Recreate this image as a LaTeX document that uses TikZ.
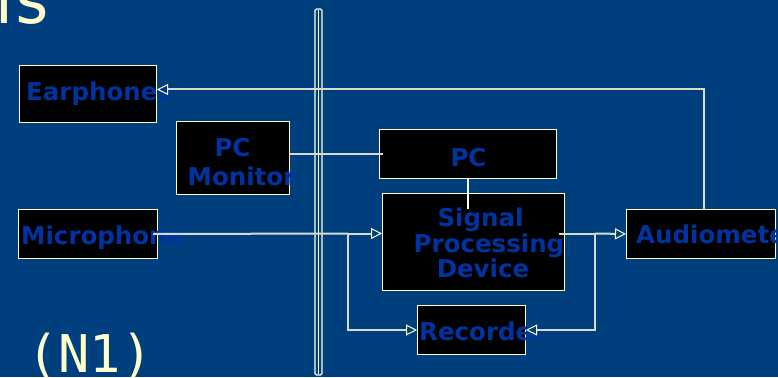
\documentclass[tikz,border=0pt]{standalone}
\usepackage{fontspec}
\setmainfont{DejaVu Sans}
\newfontfamily\slidemono{DejaVu Sans Mono}
\usetikzlibrary{arrows.meta,calc}
\definecolor{slidebg}{RGB}{0,63,126}
\definecolor{boxline}{RGB}{255,255,210}
\definecolor{wire}{RGB}{214,220,204}
\definecolor{labelblue}{RGB}{0,51,160}
\definecolor{cream}{RGB}{255,255,204}
\begin{document}
\begin{tikzpicture}[x=1pt,y=-1pt,
  unitbox/.style={draw=boxline,line width=1pt,fill=black,inner sep=0pt,anchor=north west},
  lbl/.style={font=\bfseries\fontsize{24.5}{26}\selectfont,text=labelblue,inner sep=0pt},
  wireline/.style={draw=wire,line width=2pt},
  feed/.style={wireline,-{Triangle[open,length=11pt,width=11pt,line width=1pt,color=cream]}},
  bigtext/.style={font=\slidemono\fontsize{52}{52}\selectfont,text=cream,inner sep=0pt}]
  % page background
  \fill[slidebg] (0,0) rectangle (778,377);
  \clip (0,0) rectangle (778,377);
  \useasboundingbox (0,0) rectangle (778,377);

  % title fragment and slide tag
  \node[bigtext,font=\slidemono\fontsize{66}{66}\selectfont,anchor=base west] (title) at (-27,24) {ns};
  \node[bigtext,anchor=base west] (tag) at (27,372) {(N1)};

  % divider between the two sides of the setup
  \draw[boxline,line width=1.1pt,rounded corners=1.5pt] (315,9) rectangle (322,375);
  \draw[white,line width=0.8pt] (318.7,10) -- (318.7,374);

  % units
  \node[unitbox,minimum width=137pt,minimum height=57pt] (earphones) at (19,65) {};
  \node[unitbox,minimum width=113pt,minimum height=73pt] (pcmon) at (176,121) {};
  \node[unitbox,minimum width=139pt,minimum height=49pt] (mic) at (18,209) {};
  \node[unitbox,minimum width=177pt,minimum height=49pt] (pc) at (379,129) {};
  \node[unitbox,minimum width=182pt,minimum height=97pt] (signal) at (382,193) {};
  \node[unitbox,minimum width=108pt,minimum height=49pt] (recorder) at (417,305) {};
  \node[unitbox,minimum width=149pt,minimum height=49pt] (audio) at (626,209) {};

  % labels
  \node[lbl,anchor=base west] (earphones-txt) at (26,100) {Earphones};
  \node[lbl,anchor=base] (pcmon-txt1) at (232.5,156) {PC};
  \node[lbl,anchor=base] (pcmon-txt2) at (241.5,185) {Monitor};
  \node[lbl,anchor=base west] (mic-txt) at (21,244) {Microphone};
  \node[lbl,anchor=base] (pc-txt) at (468.5,166) {PC};
  \node[lbl,anchor=base] (signal-txt1) at (480.5,226) {Signal};
  \node[lbl,anchor=base] (signal-txt2) at (489,252) {Processing};
  \node[lbl,anchor=base] (signal-txt3) at (483,277) {Device};
  \node[lbl,anchor=base west] (recorder-txt) at (419,340) {Recorder};
  \node[lbl,anchor=base west] (audio-txt) at (636,243) {Audiometer};

  % connections
  \coordinate (micsplit) at (348,233.5);
  \coordinate (outsplit) at (595,233.5);
  \draw[feed] ([xshift=2.5pt]audio.north) |- ([yshift=4.5pt]earphones.east);
  \draw[wireline] (pcmon.east |- pc.west) -- ([xshift=4pt]pc.west);
  \draw[wireline] ([xshift=-5pt]mic.east) -- (micsplit);
  \draw[feed] (micsplit) -- (micsplit -| signal.west);
  \draw[feed] (micsplit) |- (recorder.west);
  \draw[wireline] ([xshift=-6pt]signal.east |- outsplit) -- (outsplit);
  \draw[feed] (outsplit) -- (audio.west);
  \draw[feed] (outsplit) |- (recorder.east);
  \draw[cream,line width=1.6pt] (pc.south) -- ([yshift=-16pt]signal.north -| pc.south);
\end{tikzpicture}
\end{document}
